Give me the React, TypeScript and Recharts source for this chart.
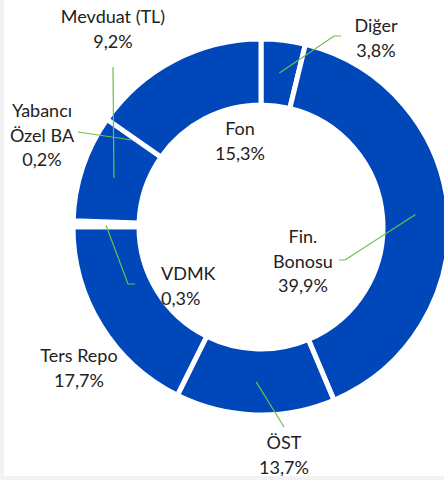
import React from 'react';
import { PieChart, Pie, Cell } from 'recharts';

const categories = ['Diğer', 'Fin. Bonosu', 'ÖST', 'Ters Repo', 'VDMK', 'Yabancı Özel BA', 'Mevduat (TL)', 'Fon'];
const shares = [3.8, 39.9, 13.7, 17.7, 0.3, 0.2, 9.2, 15.3];
const labelTexts = [['Diğer'], ['Fin.', 'Bonosu'], ['ÖST'], ['Ters Repo'], ['VDMK'], ['Yabancı', 'Özel BA'], ['Mevduat (TL)'], ['Fon']];

const data = categories.map((name, i) => ({ name, value: shares[i] }));

const BLUE = '#0047BA';
const GREEN = '#6CBF4A';
const RADIAN = Math.PI / 180;
const LINE_H = 24.5;

// label placement relative to the pie centre (Excel labels were dragged by hand)
type Pt = [number, number];
const labelLayout: { x: number; y: number; anchor: 'start' | 'middle'; leader?: Pt[]; fromMid?: boolean }[] = [
  { x: 115, y: -195, anchor: 'middle', leader: [[73, -191], [80, -191]], fromMid: true },
  { x: 42, y: 16, anchor: 'middle', leader: [[84, 33], [78, 33]], fromMid: true },
  { x: 23, y: 222, anchor: 'middle', leader: [[23, 200]], fromMid: true },
  { x: -182, y: 135, anchor: 'middle' },
  { x: -100, y: 53, anchor: 'start', leader: [[-133, 57], [-126, 57]], fromMid: true },
  { x: -219, y: -110, anchor: 'middle', leader: [[-183, -95], [-129, -87]] },
  { x: -148, y: -204, anchor: 'middle', leader: [[-148, -160]], fromMid: true },
  { x: -21, y: -92, anchor: 'middle' },
];

const fmt = (v: number) => `${v.toFixed(1).replace('.', ',')}%`;

const renderLabel = (props: any) => {
  const { cx, cy, midAngle, innerRadius, outerRadius, index } = props;
  const lay = labelLayout[index];
  const lines = [...labelTexts[index], fmt(shares[index])];
  let path = '';
  if (lay.leader) {
    const pts: Pt[] = lay.leader.map(([dx, dy]) => [cx + dx, cy + dy]);
    if (lay.fromMid) {
      const r = (innerRadius + outerRadius) / 2;
      pts.unshift([cx + r * Math.cos(-midAngle * RADIAN), cy + r * Math.sin(-midAngle * RADIAN)]);
    }
    path = pts.map((p, i) => `${i ? 'L' : 'M'}${p[0]},${p[1]}`).join(' ');
  }
  return (
    <g key={`lbl-${index}`}>
      {path && <path d={path} stroke={GREEN} strokeWidth={1.2} fill="none" />}
      <text
        x={cx + lay.x}
        y={cy + lay.y}
        textAnchor={lay.anchor}
        fill="#222"
        fontSize={18}
        fontFamily="Lato, 'Open Sans', sans-serif"
      >
        {lines.map((t, i) => (
          <tspan key={i} x={cx + lay.x} dy={i === 0 ? 0 : LINE_H}>
            {t}
          </tspan>
        ))}
      </text>
    </g>
  );
};

export default function App() {
  return (
    <div style={{ width: 444, height: 480, background: '#F2F2F2', position: 'relative' }}>
      <style>{'body{margin:0}'}</style>
      <div style={{ position: 'absolute', left: 4, top: 0, width: 440, height: 476, background: '#fff' }}>
        <PieChart width={440} height={476}>
          <Pie
            data={data}
            dataKey="value"
            nameKey="name"
            cx={252}
            cy={222}
            innerRadius={122}
            outerRadius={188}
            startAngle={90}
            endAngle={-270}
            label={renderLabel}
            labelLine={false}
            isAnimationActive={false}
          >
            {data.map((d) => (
              <Cell key={d.name} fill={BLUE} stroke="#fff" strokeWidth={5} />
            ))}
          </Pie>
        </PieChart>
      </div>
    </div>
  );
}
